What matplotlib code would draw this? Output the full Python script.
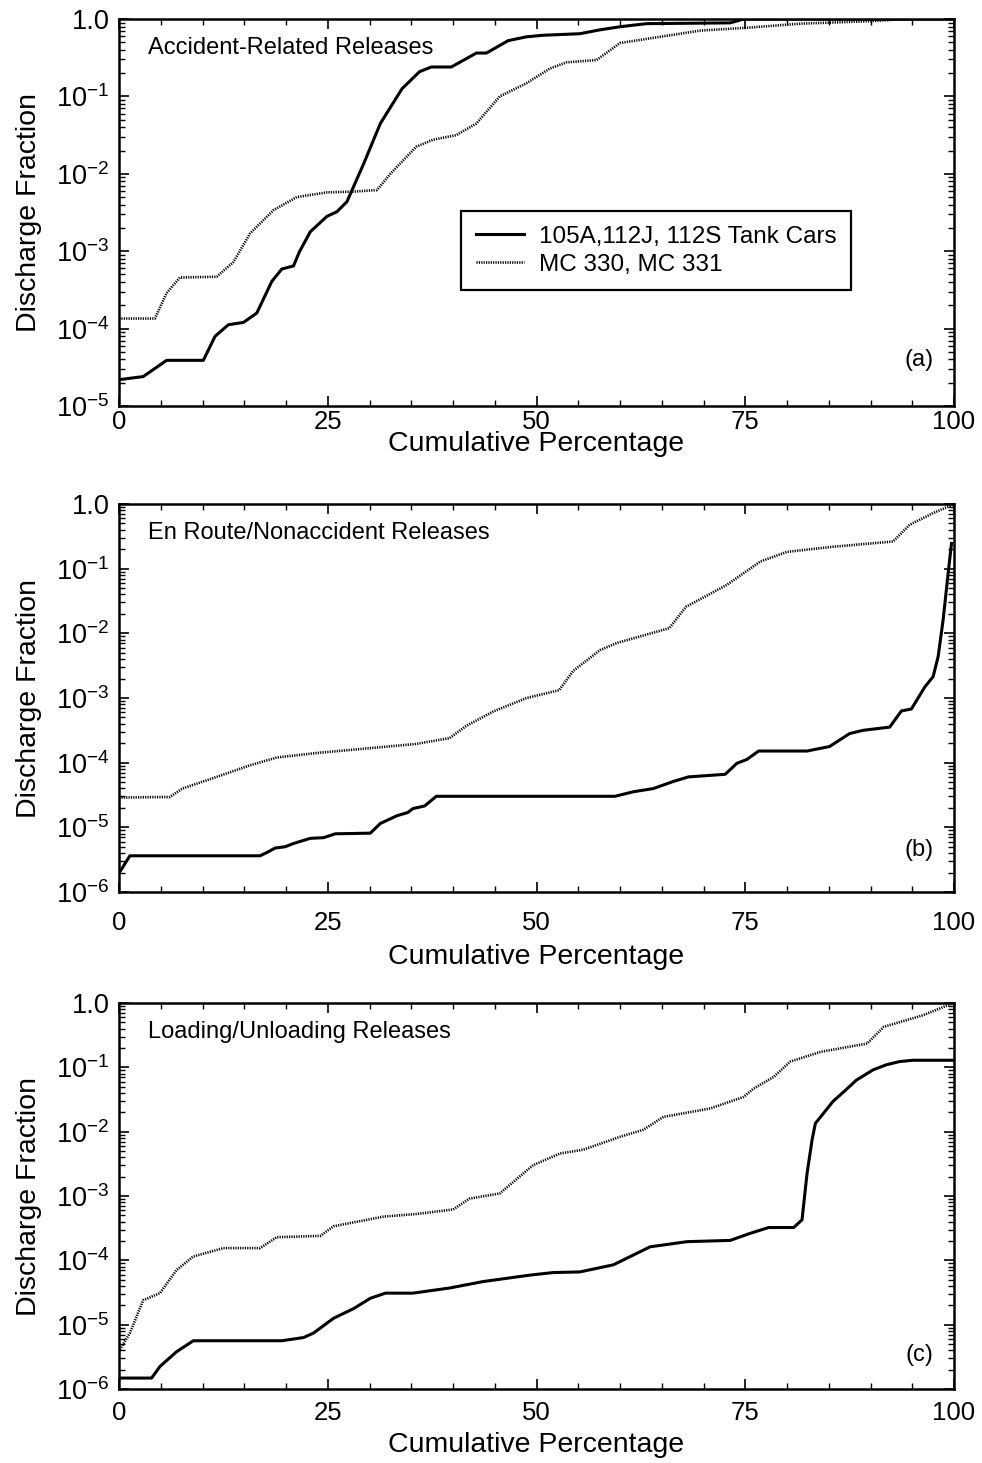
import numpy as np
import matplotlib
matplotlib.use("Agg")
import matplotlib.pyplot as plt
from matplotlib.ticker import MultipleLocator, FixedLocator, FuncFormatter, LogLocator, NullFormatter

plt.rcParams['font.family'] = ['Liberation Sans', 'DejaVu Sans']
plt.rcParams['mathtext.default'] = 'regular'

# ---------------- data (x = cumulative percentage, y = log10 of discharge fraction) ----------------
series_labels = ["105A,112J, 112S Tank Cars", "MC 330, MC 331"]
panel_titles = ["Accident-Related Releases", "En Route/Nonaccident Releases", "Loading/Unloading Releases"]
panel_tags = ["(a)", "(b)", "(c)"]
panel_ymin_exp = [-5, -6, -6]

a_tank_x = [0, 2.9, 5.7, 10.1, 11.5, 13.1, 14.9, 16.5, 18.3, 19.5, 20.9, 21.6, 22.9, 24.9, 26.1, 27.3,
            29.3, 31.3, 33.9, 36.0, 37.4, 39.8, 42.8, 44.0, 46.6, 48.8, 50.8, 55.2, 57.6, 60.0, 63.2,
            73.2, 74.8, 100]
a_tank_log = [-4.66, -4.62, -4.41, -4.41, -4.10, -3.95, -3.92, -3.80, -3.39, -3.23, -3.19, -3.01, -2.75,
              -2.55, -2.49, -2.36, -1.87, -1.35, -0.90, -0.68, -0.62, -0.62, -0.44, -0.44, -0.28, -0.23,
              -0.21, -0.19, -0.14, -0.10, -0.06, -0.05, 0.0, 0.0]

a_mc_x = [0, 4.3, 5.7, 7.3, 11.7, 13.7, 15.7, 18.5, 21.3, 24.9, 28.1, 30.9, 32.5, 35.6, 37.6, 40.4, 42.8,
          45.6, 48.8, 51.6, 53.6, 57.2, 60.0, 63.6, 69.6, 75.6, 81.6, 89.5, 94.3, 100]
a_mc_log = [-3.87, -3.87, -3.54, -3.34, -3.33, -3.14, -2.77, -2.47, -2.30, -2.24, -2.23, -2.21, -2.00,
            -1.65, -1.56, -1.50, -1.35, -1.00, -0.83, -0.64, -0.56, -0.53, -0.31, -0.25, -0.15, -0.11,
            -0.06, -0.03, 0.0, 0.0]

b_tank_x = [0, 1.3, 16.9, 17.7, 18.7, 19.9, 20.9, 22.9, 24.5, 25.9, 30.1, 31.3, 33.3, 34.6, 35.2, 36.6,
            38.0, 59.4, 61.6, 64.0, 66.4, 68.2, 72.6, 74.0, 75.2, 76.6, 82.4, 85.1, 87.5, 89.1, 92.3,
            93.7, 94.9, 96.5, 97.5, 98.1, 98.7, 99.3, 99.7]
b_tank_log = [-5.71, -5.44, -5.44, -5.39, -5.32, -5.30, -5.25, -5.17, -5.16, -5.10, -5.09, -4.94, -4.82,
              -4.77, -4.71, -4.67, -4.52, -4.52, -4.45, -4.40, -4.29, -4.22, -4.18, -4.01, -3.95, -3.82,
              -3.82, -3.75, -3.55, -3.50, -3.45, -3.20, -3.17, -2.83, -2.67, -2.36, -1.79, -1.07, -0.61]

b_mc_x = [0, 6.1, 7.6, 11.7, 15.7, 18.9, 23.7, 29.7, 35.6, 39.6, 41.6, 44.8, 48.8, 52.7, 54.4, 57.6, 59.6,
          65.9, 67.9, 72.8, 76.8, 80.0, 85.6, 92.7, 94.7, 97.5, 99.5, 100]
b_mc_log = [-4.54, -4.53, -4.40, -4.22, -4.04, -3.92, -3.85, -3.78, -3.71, -3.62, -3.43, -3.21, -3.00,
            -2.88, -2.58, -2.26, -2.15, -1.92, -1.59, -1.25, -0.89, -0.74, -0.66, -0.58, -0.32, -0.14,
            -0.03, 0.0]

c_tank_x = [0, 3.9, 4.9, 6.9, 8.9, 19.5, 22.1, 23.3, 25.7, 28.1, 30.1, 31.9, 35.2, 39.6, 43.6, 49.2, 52.0,
            55.2, 59.2, 63.6, 68.0, 73.2, 75.6, 77.8, 80.8, 81.8, 82.4, 83.0, 83.4, 84.4, 85.5, 86.8,
            88.3, 90.3, 91.9, 93.5, 95.1, 100]
c_tank_log = [-5.83, -5.83, -5.65, -5.42, -5.25, -5.25, -5.20, -5.13, -4.90, -4.75, -4.59, -4.51, -4.51,
              -4.43, -4.33, -4.23, -4.19, -4.18, -4.07, -3.79, -3.71, -3.69, -3.58, -3.49, -3.49, -3.37,
              -2.65, -2.13, -1.87, -1.71, -1.53, -1.38, -1.20, -1.04, -0.96, -0.91, -0.89, -0.89]

c_mc_x = [0.1, 1.3, 2.9, 4.9, 6.9, 8.9, 12.5, 16.9, 18.9, 24.1, 25.7, 31.7, 35.6, 40.0, 42.0, 45.6, 49.6,
          52.8, 55.6, 60.0, 62.8, 65.2, 70.8, 74.8, 76.0, 78.4, 80.4, 84.0, 89.6, 91.6, 96.3, 99.9]
c_mc_log = [-5.39, -5.13, -4.62, -4.51, -4.15, -3.94, -3.81, -3.81, -3.64, -3.62, -3.47, -3.32, -3.28,
            -3.21, -3.04, -2.96, -2.52, -2.34, -2.28, -2.08, -1.97, -1.77, -1.64, -1.46, -1.33, -1.15,
            -0.91, -0.76, -0.63, -0.37, -0.19, 0.0]

x_ticks = [0, 25, 50, 75, 100]

panels = [
    (a_tank_x, a_tank_log, a_mc_x, a_mc_log),
    (b_tank_x, b_tank_log, b_mc_x, b_mc_log),
    (c_tank_x, c_tank_log, c_mc_x, c_mc_log),
]

# ---------------- layout ----------------
W, H = 982, 1463
fig = plt.figure(figsize=(W / 100, H / 100), dpi=100)

ax_px = [(119, 19, 954, 406), (119, 504, 954, 892), (119, 1003, 954, 1389)]
xtick_pads = [3, 14, 9]
xlabel_pads = [-2, 6, 4.5]


def yfmt(v, pos):
    e = int(round(np.log10(v)))
    if e == 0:
        return "1.0"
    return r"$\mathregular{10^{%d}}$" % e


for i, (tx, ty, mx, my) in enumerate(panels):
    l, t, r, b = ax_px[i]
    ax = fig.add_axes([l / W, 1 - b / H, (r - l) / W, (b - t) / H])
    ax.set_yscale('log')
    ln1, = ax.plot(tx, 10.0 ** np.array(ty), color='black', lw=2.2, solid_joinstyle='round')
    ln2, = ax.plot(mx, 10.0 ** np.array(my), color='black', lw=1.9, linestyle=(0, (0.45, 0.45)))
    ax.set_xlim(0, 100)
    ymin = 10.0 ** panel_ymin_exp[i]
    ax.set_ylim(ymin, 1.0)

    ax.xaxis.set_major_locator(FixedLocator(x_ticks))
    ax.xaxis.set_minor_locator(MultipleLocator(5))
    decades = [10.0 ** k for k in range(panel_ymin_exp[i], 1)]
    ax.yaxis.set_major_locator(FixedLocator(decades))
    ax.yaxis.set_major_formatter(FuncFormatter(yfmt))
    ax.yaxis.set_minor_locator(LogLocator(base=10, subs=np.arange(2, 10)))
    ax.yaxis.set_minor_formatter(NullFormatter())

    ax.tick_params(which='both', direction='in', top=True, right=True, colors='black')
    ax.tick_params(which='major', length=7, width=1.2)
    ax.tick_params(which='minor', length=4, width=1.0)
    ax.tick_params(axis='x', which='major', labelsize=18.5, pad=xtick_pads[i])
    ax.tick_params(axis='y', which='major', labelsize=19.5, pad=7)
    for s in ax.spines.values():
        s.set_linewidth(1.8)

    ax.set_ylabel("Discharge Fraction", fontsize=20.5, labelpad=10)
    ax.set_xlabel("Cumulative Percentage", fontsize=20.5, labelpad=xlabel_pads[i])

    ax.text(0.035, 0.925, panel_titles[i], transform=ax.transAxes, fontsize=17,
            ha='left', va='center')
    tag_y = [0.119, 0.108, 0.088][i]
    ax.text(0.975, tag_y, panel_tags[i], transform=ax.transAxes, fontsize=17,
            ha='right', va='center')

    if i == 0:
        leg = ax.legend([ln1, ln2], series_labels, loc='upper left',
                        bbox_to_anchor=((461 - 119) / 835, (406 - 211) / 387),
                        borderaxespad=0, fontsize=17.5, frameon=True, fancybox=False,
                        edgecolor='black', handlelength=2.0, handletextpad=0.6,
                        labelspacing=0.25, borderpad=0.6)
        leg.get_frame().set_linewidth(1.6)
        leg.get_frame().set_alpha(1)

fig.savefig("out.png", dpi=100)
